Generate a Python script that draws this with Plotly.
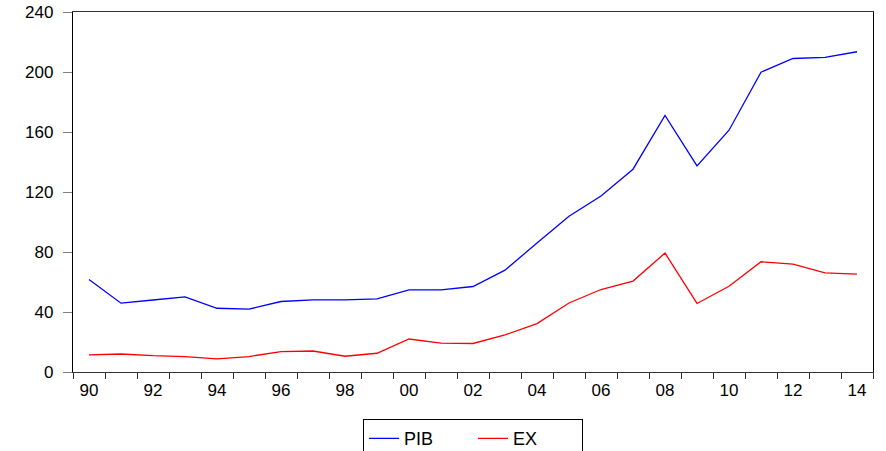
import plotly.graph_objects as go

years = list(range(1990, 2015))
pib = [61.7, 45.9, 48.0, 50.1, 42.5, 41.9, 47.0, 48.1, 48.1, 48.8, 54.8, 54.8, 57.0,
       67.9, 86.0, 103.8, 117.3, 135.2, 171.0, 137.4, 161.2, 199.9, 209.0, 209.7, 213.5]
ex = [11.4, 12.0, 10.9, 10.3, 8.7, 10.3, 13.6, 14.0, 10.5, 12.5, 22.0, 19.2, 19.0,
      24.7, 32.3, 46.0, 55.0, 60.6, 79.3, 45.7, 57.2, 73.5, 71.9, 66.1, 65.2]
label_years = list(range(1990, 2015, 2))
tick_labels = ["90", "92", "94", "96", "98", "00", "02", "04", "06", "08", "10", "12", "14"]
y_ticks = [0, 40, 80, 120, 160, 200, 240]

fig = go.Figure()
fig.add_trace(go.Scatter(x=years, y=pib, mode="lines", name="PIB",
                         line=dict(color="#0000FF", width=1.3)))
fig.add_trace(go.Scatter(x=years, y=ex, mode="lines", name="EX",
                         line=dict(color="#FF0000", width=1.3)))

fig.update_layout(
    width=886, height=451,
    margin=dict(l=73, r=13, t=12, b=79, autoexpand=False),
    paper_bgcolor="white", plot_bgcolor="white",
    font=dict(family="Liberation Sans, Arial, sans-serif", color="black", size=17),
    showlegend=True,
    legend=dict(orientation="h", x=0.5, xanchor="center", y=-0.131, yanchor="top",
                bordercolor="black", borderwidth=1, font=dict(size=18),
                bgcolor="white", entrywidth=64, tracegroupgap=0),
)
fig.update_xaxes(
    range=[1989.5, 2014.5], showgrid=False, zeroline=False, automargin=False,
    tickmode="array", tickvals=label_years, ticktext=tick_labels,
    ticks="", ticklabelstandoff=2,
    showline=True, linecolor="#333333", linewidth=1.3, mirror=True,
    minor=dict(tickmode="linear", tick0=1989.5, dtick=1, ticks="outside",
               ticklen=6, tickcolor="#333333", tickwidth=1, showgrid=False),
    tickfont=dict(size=17),
)
fig.update_yaxes(
    range=[0, 240], showgrid=False, zeroline=False, automargin=False,
    tickmode="array", tickvals=y_ticks,
    ticks="outside", ticklen=9, tickcolor="#808080", tickwidth=1,
    ticklabelstandoff=6,
    showline=True, linecolor="black", linewidth=1.3, mirror=True,
    tickfont=dict(size=17),
)

# remove the default page margin so the figure fills the window exactly
fig.write_html("out.html", config={"displayModeBar": False},
               post_script="document.body.style.margin='0px';")
